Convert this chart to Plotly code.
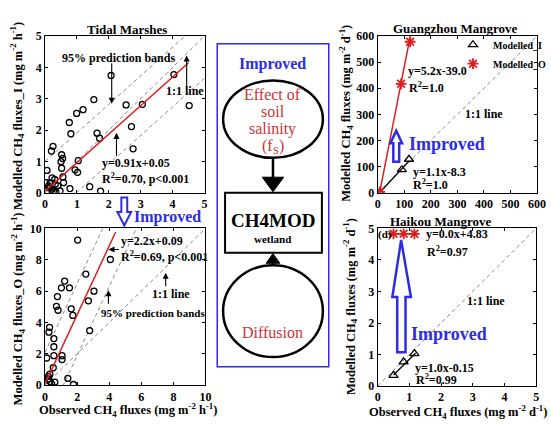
import plotly.graph_objects as go

W, H = 551, 425
SERIF = "Liberation Serif"
RED = "rgb(220,30,30)"
BLUE = "rgb(45,45,225)"
GRAY = "rgb(140,140,140)"
TXTRED = "rgb(200,55,55)"

# ---------------- data ----------------
# (a) Tidal marshes, modelled with original CH4MOD (I)
tm1_obs = [2.07, 4.04, 1.53, 1.19, 0.99, 0.76, 0.81, 2.54, 3.05, 4.52, 2.71, 2.76, 1.63, 1.71,
           0.25, 0.20, 0.52, 0.55, 0.50, 1.04, 0.94, 1.02, 0.52, 0.56, 0.06, 0.78, 1.40, 1.74,
           0.22, 0.30, 0.16, 0.32, 0.11, 0.40, 0.22, 0.06, 0.47, 0.34, 0.03, 0.58, 0.15, 0.26]
tm1_mod = [3.74, 3.77, 2.97, 2.65, 2.53, 2.24, 1.88, 2.80, 2.82, 2.78, 2.11, 1.40, 1.90, 1.74,
           1.48, 1.33, 1.21, 1.09, 0.99, 1.02, 0.73, 0.65, 0.78, 0.50, 0.71, 0.13, 0.19, 0.05,
           0.47, 0.42, 0.32, 0.27, 0.22, 0.22, 0.11, 0.06, 0.06, 0.02, 0.32, 0.32, 0.15, 0.05]
tm1_fit = (0.91, 0.05)
tm1_band = 0.95

# (b) Tidal marshes, modelled with improved CH4MOD (O)
tm2_obs = [2.03, 4.07, 2.54, 1.22, 1.02, 1.52, 0.77, 3.05, 2.70, 0.81, 1.63, 1.73, 2.78, 0.28,
           0.24, 0.55, 0.55, 0.55, 1.06, 1.06, 0.51, 0.30, 0.20, 0.30, 1.42, 1.77, 0.41, 0.10,
           0.20, 0.61, 0.71]
tm2_mod = [9.26, 8.02, 7.09, 6.64, 6.21, 6.21, 5.65, 6.00, 5.38, 4.78, 4.87, 4.45, 3.48, 3.69,
           3.38, 2.97, 2.45, 1.88, 1.88, 1.63, 1.11, 0.70, 0.56, 0.23, 0.43, 0.04, 0.08, 1.73,
           0.39, 0.19, 5.03]
tm2_fit = (2.2, 0.09)
tm2_band_up, tm2_band_lo = 2.0, -2.6

# (c) Guangzhou mangrove
gz_obs = [8, 91, 118]
gz_mod_I = [0.5, 88, 128]
gz_obs_O = [8, 88, 122]
gz_mod_O = [2.6, 417, 578]
gz_fit_I = (1.1, -8.3)
gz_fit_O = (5.2, -39.0)

# (d) Haikou mangrove
hk_obs = [0.50, 0.82, 1.16]
hk_mod_I = [0.34, 0.77, 1.03]
hk_mod_O = [4.83, 4.83, 4.83]
hk_fit_I = (1.0, -0.15)
hk_fit_O = (0.0, 4.83)


def px(x):
    return x / W


def py(y):
    return 1 - y / H


def fit_line(fit, x0, x1):
    a, b = fit
    return [x0, x1], [a * x0 + b, a * x1 + b]


fig = go.Figure()


def dashed(xs, ys, xa, ya):
    fig.add_trace(go.Scatter(x=xs, y=ys, mode="lines", xaxis=xa, yaxis=ya, showlegend=False,
                             line=dict(color=GRAY, width=1, dash="4px,3px"), hoverinfo="skip"))


def solid(xs, ys, xa, ya, color, width=1.5):
    fig.add_trace(go.Scatter(x=xs, y=ys, mode="lines", xaxis=xa, yaxis=ya, showlegend=False,
                             line=dict(color=color, width=width), hoverinfo="skip"))


# ---- panel a ----
dashed([0, 5], [0, 5], "x", "y")
for c in (tm1_band, -tm1_band):
    dashed([0, 5], [tm1_fit[1] + c, tm1_fit[0] * 5 + tm1_fit[1] + c], "x", "y")
fig.add_trace(go.Scatter(x=tm1_obs, y=tm1_mod, mode="markers", xaxis="x", yaxis="y", showlegend=False,
                         marker=dict(symbol="circle-open", size=6, color="black", line=dict(width=1.3))))
xs, ys = fit_line(tm1_fit, 0, 4.5)
solid(xs, ys, "x", "y", RED)

# ---- panel b ----
dashed([0, 10], [0, 10], "x2", "y2")
for c in (tm2_band_up, tm2_band_lo):
    dashed([0, 10], [tm2_fit[1] + c, tm2_fit[0] * 10 + tm2_fit[1] + c], "x2", "y2")
fig.add_trace(go.Scatter(x=tm2_obs, y=tm2_mod, mode="markers", xaxis="x2", yaxis="y2", showlegend=False,
                         marker=dict(symbol="circle-open", size=6, color="black", line=dict(width=1.3))))
xs, ys = fit_line(tm2_fit, 0, 4.4)
solid(xs, ys, "x2", "y2", RED)

# ---- panel c ----
dashed([0, 600], [0, 600], "x3", "y3")
xs, ys = fit_line(gz_fit_O, 7.5, 122)
solid(xs, ys, "x3", "y3", RED)
xs, ys = fit_line(gz_fit_I, 7.5, 118)
solid(xs, ys, "x3", "y3", "black", 1.3)
fig.add_trace(go.Scatter(x=gz_obs, y=gz_mod_I, mode="markers", xaxis="x3", yaxis="y3", name="Modelled_I",
                         marker=dict(symbol="triangle-up-open", size=8, color="black", line=dict(width=1.3))))
fig.add_trace(go.Scatter(x=gz_obs_O, y=gz_mod_O, mode="markers", xaxis="x3", yaxis="y3", name="Modelled_O",
                         marker=dict(symbol="asterisk-open", size=9, color=RED, line=dict(width=1.8, color=RED))))

# ---- panel d ----
dashed([0, 5], [0, 5], "x4", "y4")
xs, ys = fit_line(hk_fit_O, 0.5, 1.16)
solid(xs, ys, "x4", "y4", RED)
xs, ys = fit_line(hk_fit_I, 0.5, 1.2)
solid(xs, ys, "x4", "y4", "black", 1.3)
fig.add_trace(go.Scatter(x=hk_obs, y=hk_mod_I, mode="markers", xaxis="x4", yaxis="y4", showlegend=False,
                         marker=dict(symbol="triangle-up-open", size=8, color="black", line=dict(width=1.3))))
fig.add_trace(go.Scatter(x=hk_obs, y=hk_mod_O, mode="markers", xaxis="x4", yaxis="y4", showlegend=False,
                         marker=dict(symbol="asterisk-open", size=9, color=RED, line=dict(width=1.8, color=RED))))


def axis(x0, x1, rng, dtick, anchor, horizontal=True):
    d = dict(domain=[px(x0), px(x1)] if horizontal else [py(x1), py(x0)], range=rng, dtick=dtick, tick0=0,
             ticks="inside", ticklen=3, tickwidth=1, tickcolor="black", showline=True, linecolor="black",
             linewidth=1, mirror="ticks", showgrid=False, zeroline=False, anchor=anchor,
             tickfont=dict(family=SERIF, size=12, color="black", weight="bold"))
    return d


fig.update_layout(
    xaxis=axis(43, 206, [0, 5], 1, "y"),
    yaxis=axis(30, 192, [0, 5], 1, "x", False),
    xaxis2=axis(43, 207, [0, 10], 2, "y2"),
    yaxis2=axis(229, 391, [0, 10], 2, "x2", False),
    xaxis3=axis(383, 546, [0, 600], 100, "y3"),
    yaxis3=axis(30, 192, [0, 600], 100, "x3", False),
    xaxis4=axis(383, 545, [0, 5], 1, "y4"),
    yaxis4=axis(229, 392, [0, 5], 1, "x4", False),
)

ann = []


def txt(x, y, s, size=12, color="black", anchor="left", bold=True, angle=0):
    ann.append(dict(x=px(x), y=py(y), xref="paper", yref="paper", text=f"<b>{s}</b>" if bold else s,
                    showarrow=False, xanchor=anchor, yanchor="middle", textangle=angle,
                    font=dict(family=SERIF, size=size, color=color)))


def arrow(xa, ya, x, y, ax, ay):
    ann.append(dict(x=x, y=y, xref=xa, yref=ya, ax=ax, ay=ay, text="", showarrow=True,
                    arrowhead=2, arrowsize=1.1, arrowwidth=1.1, arrowcolor="black"))


# titles
txt(127, 23, "Tidal Marshes", 13, anchor="center")
txt(463, 22, "Guangzhou Mangrove", 13, anchor="center")
txt(447, 222, "Haikou Mangrove", 13, anchor="center")
# axis titles
txt(15, 113, "Modelled CH<sub>4</sub> fluxes_I (mg m<sup>-2</sup> h<sup>-1</sup>)", 12.5, anchor="center", angle=-90)
txt(15, 312, "Modelled CH<sub>4</sub> fluxes_O (mg m<sup>-2</sup> h<sup>-1</sup>)", 12.5, anchor="center", angle=-90)
txt(128, 417, "Observed CH<sub>4</sub> fluxes (mg m<sup>-2</sup> h<sup>-1</sup>)", 12.5, anchor="center")
txt(351, 110, "Modelled CH<sub>4</sub> fluxes (mg m<sup>-2</sup> d<sup>-1</sup>)", 12.5, anchor="center", angle=-90)
txt(355, 310, "Modelled CH<sub>4</sub> fluxes (mg m<sup>-2</sup> d<sup>-1</sup>)", 12.5, anchor="center", angle=-90)
txt(465, 419, "Observed CH<sub>4</sub> fluxes (mg m<sup>-2</sup> d<sup>-1</sup>)", 12.5, anchor="center")

# panel a texts
txt(58, 53, "95% prediction bands", 12)
txt(165, 87, "1:1 line", 12)
txt(99, 161, "y=0.91x+0.05", 12)
txt(99, 177, "R<sup>2</sup>=0.70, p&lt;0.001", 12)
arrow("x", "y", 2.09, 2.84, 0, -42)
arrow("x", "y", 2.24, 1.91, 0, 25)
arrow("x", "y", 4.44, 4.38, 0, 33)

# panel b texts
txt(119, 242, "y=2.2x+0.09", 12)
txt(119, 258, "R<sup>2</sup>=0.69, p&lt;0.001", 12)
txt(150, 297, "1:1 line", 12)
txt(98, 316, "95% prediction bands", 11)
arrow("x2", "y2", 3.95, 8.66, 12, 0)
arrow("x2", "y2", 7.52, 7.17, 0, 15)
arrow("x2", "y2", 3.95, 6.06, 0, 15)

# between a and b
txt(132, 217, "Improved", 16, color=BLUE)

# panel c texts
txt(412, 66, "y=5.2x-39.0", 12)
txt(413, 83, "R<sup>2</sup>=1.0", 12)
txt(470, 111, "1:1 line", 12)
txt(417, 171, "y=1.1x-8.3", 12)
txt(417, 184, "R<sup>2</sup>=1.0", 12)
txt(413, 142, "Improved", 18, color=BLUE)

# panel d texts
txt(381, 235, "(d)", 11)
txt(430, 235, "y=0.0x+4.83", 12)
txt(431, 253, "R<sup>2</sup>=0.97", 12)
txt(472, 304, "1:1 line", 12)
txt(419, 373, "y=1.0x-0.15", 12)
txt(420, 385, "R<sup>2</sup>=0.99", 12)
txt(415, 338, "Improved", 18, color=BLUE)

# middle diagram texts
txt(276, 59, "Improved", 16, color=BLUE, anchor="center")
txt(276, 90, "Effect of", 16, color=TXTRED, anchor="center", bold=False)
txt(276, 108, "soil", 16, color=TXTRED, anchor="center", bold=False)
txt(276, 126, "salinity", 16, color=TXTRED, anchor="center", bold=False)
txt(276, 144, "(f<sub>S</sub>)", 16, color=TXTRED, anchor="center", bold=False)
txt(276, 221, "CH4MOD", 19, anchor="center")
txt(276, 240, "wetland", 11, anchor="center")
txt(276, 337, "Diffusion", 16, color=TXTRED, anchor="center", bold=False)

shapes = []


def P(pts):
    return "M " + " L ".join(f"{px(x):.5f},{py(y):.5f}" for x, y in pts) + " Z"


def rect(x0, y0, x1, y1, color, width):
    shapes.append(dict(type="rect", xref="paper", yref="paper", x0=px(x0), x1=px(x1), y0=py(y1), y1=py(y0),
                       line=dict(color=color, width=width), fillcolor="rgba(0,0,0,0)"))


def ellipse(x0, y0, x1, y1):
    shapes.append(dict(type="circle", xref="paper", yref="paper", x0=px(x0), x1=px(x1), y0=py(y1), y1=py(y0),
                       line=dict(color="black", width=2.5)))


def line(x0, y0, x1, y1, width=2.5):
    shapes.append(dict(type="line", xref="paper", yref="paper", x0=px(x0), x1=px(x1), y0=py(y0), y1=py(y1),
                       line=dict(color="black", width=width)))


def poly(pts, fill, color, width):
    shapes.append(dict(type="path", xref="paper", yref="paper", path=P(pts), fillcolor=fill,
                       line=dict(color=color, width=width)))


rect(219, 38, 333, 372, BLUE, 1.5)
ellipse(225, 76, 327, 156)
line(276, 156, 276, 177)
poly([(265, 176), (287, 176), (276, 191)], "black", "black", 1)
rect(227, 192, 326, 254, "black", 2)
line(276, 267, 276, 262)
poly([(269, 265), (283, 265), (276, 255)], "black", "black", 1)
ellipse(225, 267, 327, 362)

# hollow blue arrows
poly([(121, 197), (127, 197), (127, 212), (131, 212), (124, 226), (117, 212), (121, 212)], "white", BLUE, 2)
poly([(399, 160), (405, 160), (405, 141), (408, 141), (402, 128), (396, 141), (399, 141)], "white", BLUE, 2.5)
poly([(403, 357), (411.5, 357), (411.5, 300), (417, 300), (407, 241), (398, 300), (403, 300)], "white", BLUE, 2.5)

fig.update_layout(
    width=W, height=H, margin=dict(l=0, r=0, t=0, b=0),
    paper_bgcolor="white", plot_bgcolor="white",
    annotations=ann, shapes=shapes,
    legend=dict(x=px(460), y=py(24), xanchor="left", yanchor="top", bgcolor="rgba(0,0,0,0)",
                font=dict(family=SERIF, size=10, color="black", weight="bold"), tracegroupgap=0,
                itemwidth=30),
    showlegend=True,
)

fig.write_html("out.html")
